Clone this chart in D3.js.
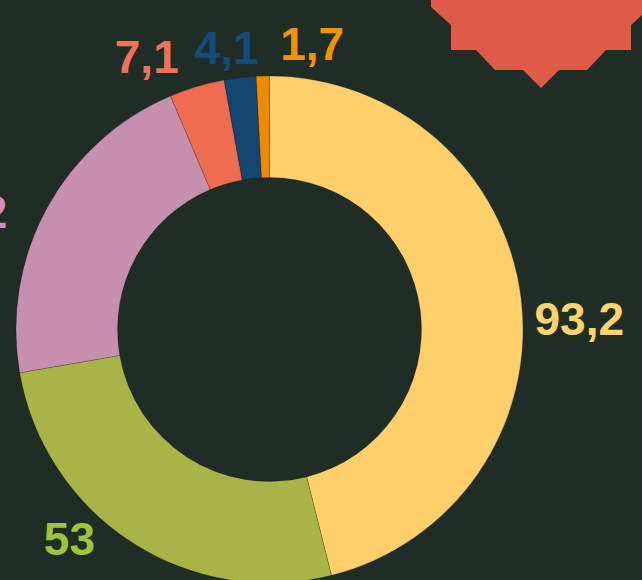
<!DOCTYPE html>
<html>
<head>
<meta charset="utf-8">
<script src="https://cdn.jsdelivr.net/npm/d3@7"></script>
<style>
	html, body { margin:0; padding:0; background:#1f2d26; overflow:hidden; }
	#idDonut { display:block; }
</style>
</head>
<body>
<div id="idDonutHolder"></div>
<script>
var aLabels=["93,2","53","43,2","7,1","4,1","1,7"];
var aValues=[93.2,53,43.2,7.1,4.1,1.7];
var aSliceColors=["#fecf6a","#a9b446","#c78fae","#ee6d51","#134670","#ef8a00"];
var aLabelColors=["#ffd46b","#9cc43d","#d58cbb","#ef7256","#134b7a","#f39200"];

function DrawDonut()
{
	var iWidth=642;
	var iHeight=580;
	var iCX=269.5;
	var iCY=329.5;
	var iOuter=253.5;
	var iInner=152;
	// labels are pushed apart a bit, same as in the original layout
	var aLabelTurn=[5,10.8,-7.5,-7.6,-2,10];
	var aLabelRadius=[310,289,329,299,285,289];

	var mySvg = d3.select("#idDonutHolder").append("svg")
		.attr("id","idDonut")
		.attr("width", iWidth)
		.attr("height", iHeight);

	mySvg.append("rect")
		.attr("width", iWidth)
		.attr("height", iHeight)
		.attr("fill", "#1f2d26");

	// red badge in the corner
	mySvg.append("polygon")
		.attr("points", "431,0 431,7 451,25 451,50 476,50 495,70 523,70 541,88 559,70 587,70 606,50 631,50 631,25 651,7 651,0")
		.attr("fill", "#e05a48");

	var myPie = d3.pie()
		.sort(null)
		.value(function(d) { return d; });

	var myArc = d3.arc()
		.innerRadius(iInner)
		.outerRadius(iOuter);

	var aSlices = myPie(aValues);

	var myGraphics = mySvg.append("g")
		.attr("transform", "translate(" + iCX + "," + iCY + ")");

	myGraphics.selectAll(".DonutSlice")
		.data(aSlices)
		.enter()
		.append("path")
			.attr("class","DonutSlice")
			.attr("d", myArc)
			.attr("fill", function(d, i) { return aSliceColors[i]; })
			.attr("stroke", "rgba(0,0,0,0.18)")
			.attr("stroke-width", 1);

	myGraphics.selectAll(".DonutLabel")
		.data(aSlices)
		.enter()
		.append("text")
			.attr("class","DonutLabel")
			.text(function(d, i) { return aLabels[i]; })
			.attr("x", function(d, i) {
				var fAngle=(d.startAngle+d.endAngle)/2 + aLabelTurn[i]*Math.PI/180;
				return Math.sin(fAngle)*aLabelRadius[i];
			})
			.attr("y", function(d, i) {
				var fAngle=(d.startAngle+d.endAngle)/2 + aLabelTurn[i]*Math.PI/180;
				return -Math.cos(fAngle)*aLabelRadius[i];
			})
			.attr("dy", "0.36em")
			.attr("text-anchor", "middle")
			.attr("font-family", "'Liberation Sans', Arial, sans-serif")
			.attr("font-weight", "bold")
			.attr("font-size", "46px")
			.attr("fill", function(d, i) { return aLabelColors[i]; });
}

DrawDonut();
</script>
</body>
</html>
